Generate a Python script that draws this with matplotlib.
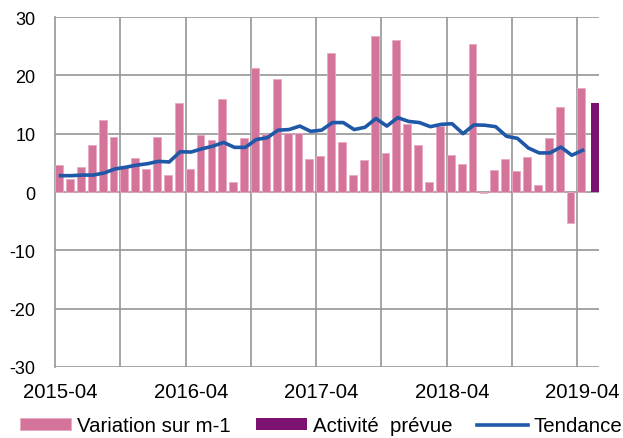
import numpy as np
import pandas as pd
import matplotlib
matplotlib.use('Agg')
import matplotlib.pyplot as plt

plt.rcParams['font.family'] = ['Liberation Sans', 'DejaVu Sans']
plt.rcParams['axes.unicode_minus'] = False

months = pd.period_range('2015-04', periods=50, freq='M').strftime('%Y-%m').tolist()

# variation sur m-1 (2015-04 .. 2019-04)
variation = [4.7, 2.2, 4.3, 8.0, 12.4, 9.4, 4.3, 5.9, 4.0, 9.4,
             3.0, 15.3, 4.0, 9.7, 8.9, 15.9, 1.8, 9.2, 21.2, 10.0,
             19.3, 10.2, 10.2, 5.6, 6.1, 23.8, 8.5, 2.9, 5.5, 26.8,
             6.7, 26.1, 11.7, 8.1, 1.8, 11.4, 6.4, 4.75, 25.4, -0.1,
             3.7, 5.7, 3.55, 5.95, 1.2, 9.2, 14.5, -5.3, 17.9]
# activité prévue (2019-05)
prevue = [15.2]
# tendance
tendance = [2.8, 2.8, 2.9, 2.9, 3.25, 3.95, 4.25, 4.6, 4.85, 5.25,
            5.15, 6.9, 6.85, 7.4, 7.85, 8.5, 7.65, 7.65, 9.0, 9.3,
            10.6, 10.7, 11.3, 10.4, 10.6, 11.9, 11.9, 10.7, 11.1, 12.6,
            11.3, 12.75, 12.1, 11.9, 11.2, 11.6, 11.7, 10.0, 11.5, 11.45,
            11.2, 9.55, 9.2, 7.55, 6.7, 6.7, 7.7, 6.3, 7.15]

pink = '#d4749a'
purple = '#7b1270'
blue = '#2058a8'
grid = '#969696'

fig = plt.figure(figsize=(6.23, 4.39), dpi=100)
ax = fig.add_axes([55/623, 1-368/439, 544/623, 350/439])

x = np.arange(len(months))
n = len(variation)
b1 = ax.bar(x[:n] - 0.12, variation, width=0.72, color=pink,
            edgecolor='#e9a9c2', linewidth=0.6, label='Variation sur m-1', zorder=3)
b2 = ax.bar(x[n:] + 0.12, prevue, width=0.73, color=purple,
            label='Activité  prévue', zorder=3)
l1, = ax.plot(x[:len(tendance)], tendance, color=blue, lw=2.6,
              label='Tendance', zorder=4, solid_joinstyle='round')

ax.set_xlim(-0.5, 49.5)
ax.set_ylim(-30, 30)
ax.set_yticks(range(-30, 31, 10))
ax.set_xticks(x[::12])
ax.set_xticklabels([months[i] for i in x[::12]])
ax.set_xticks(np.arange(5.5, 49, 6), minor=True)

ax.grid(axis='y', color=grid, lw=1.2, zorder=0)
ax.grid(axis='x', which='minor', color=grid, lw=1.2, zorder=0)
ax.grid(axis='x', which='major', visible=False)
ax.tick_params(axis='both', which='both', length=0)
ax.tick_params(axis='y', labelsize=13, pad=14)
ax.tick_params(axis='x', labelsize=14.7, pad=11)
for s in ['top', 'right', 'bottom']:
    ax.spines[s].set_visible(False)
ax.spines['left'].set_color(grid)
ax.spines['left'].set_linewidth(1.2)

fig.legend([b1, b2, l1], ['Variation sur m-1', 'Activité  prévue', 'Tendance'],
           loc='center', bbox_to_anchor=(0.516, 1-426.7/439), ncol=3,
           frameon=False, fontsize=14.7, handlelength=2.5, handleheight=0.5,
           handletextpad=0.3, columnspacing=1.2, borderpad=0)

fig.savefig('out.png', dpi=100)
